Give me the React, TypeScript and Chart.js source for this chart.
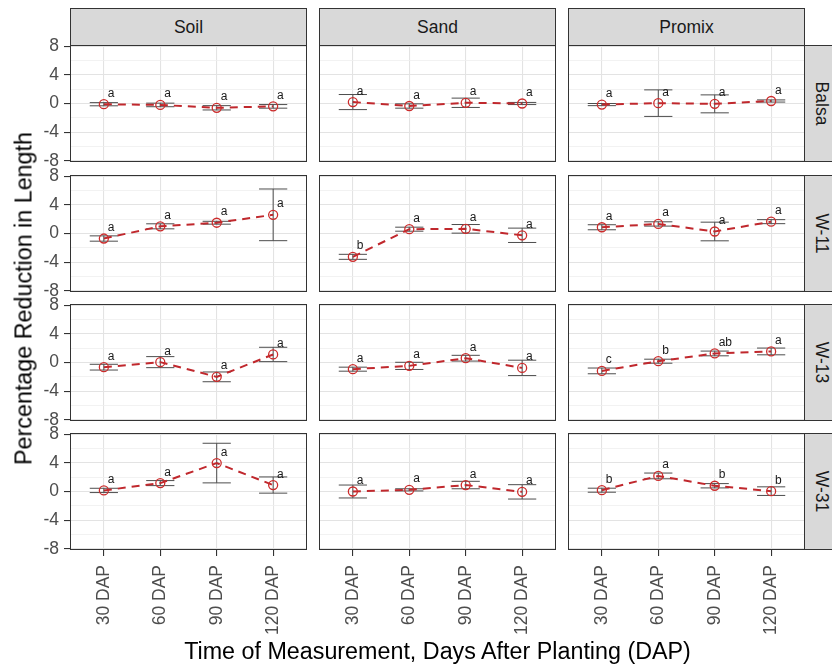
import React, { useEffect, useRef } from "react";
import { Chart, registerables } from "chart.js";

Chart.register(...registerables);

const FONT = "'Liberation Sans', Arial, Helvetica, sans-serif";
Chart.defaults.font.family = FONT;

// ---------- data ----------
const DAP_LABELS = ["30 DAP", "60 DAP", "90 DAP", "120 DAP"];
const MEDIA = ["Soil", "Sand", "Promix"];
const CULTIVARS = ["Balsa", "W-11", "W-13", "W-31"];
const Y_MAJOR = [-8, -4, 0, 4, 8];
const Y_MINOR = [-6, -2, 2, 6];

// each array: [Soil, Sand, Promix], values for 30/60/90/120 DAP
const balsaMean = [
  [-0.1, -0.2, -0.6, -0.4],
  [0.2, -0.35, 0.1, 0.0],
  [-0.15, 0.05, -0.05, 0.35],
];
const balsaErr = [
  [0.22, 0.25, 0.3, 0.25],
  [1.05, 0.3, 0.65, 0.15],
  [0.15, 1.85, 1.25, 0.15],
];
const balsaLetters = [
  ["a", "a", "a", "a"],
  ["a", "a", "a", "a"],
  ["a", "a", "a", "a"],
];

const w11Mean = [
  [-0.7, 1.0, 1.5, 2.6],
  [-3.25, 0.6, 0.65, -0.25],
  [0.87, 1.33, 0.28, 1.65],
];
const w11Err = [
  [0.37, 0.35, 0.2, 3.6],
  [0.35, 0.28, 0.6, 1.0],
  [0.35, 0.3, 1.3, 0.28],
];
const w11Letters = [
  ["a", "a", "a", "a"],
  ["b", "a", "a", "a"],
  ["a", "a", "a", "a"],
];

const w13Mean = [
  [-0.65, 0.05, -2.0, 1.12],
  [-0.93, -0.47, 0.6, -0.75],
  [-1.17, 0.18, 1.26, 1.54],
];
const w13Err = [
  [0.4, 0.77, 0.68, 1.0],
  [0.28, 0.5, 0.4, 1.07],
  [0.4, 0.28, 0.33, 0.47],
];
const w13Letters = [
  ["a", "a", "a", "a"],
  ["a", "a", "a", "a"],
  ["c", "b", "ab", "a"],
];

const w31Mean = [
  [0.15, 1.17, 3.96, 0.9],
  [0.0, 0.23, 0.9, -0.05],
  [0.18, 2.17, 0.8, 0.05],
];
const w31Err = [
  [0.3, 0.35, 2.76, 1.13],
  [0.9, 0.15, 0.52, 1.0],
  [0.28, 0.4, 0.3, 0.6],
];
const w31Letters = [
  ["a", "a", "a", "a"],
  ["a", "a", "a", "a"],
  ["b", "a", "b", "b"],
];

const MEANS = [balsaMean, w11Mean, w13Mean, w31Mean];
const ERRS = [balsaErr, w11Err, w13Err, w31Err];
const LETTERS = [balsaLetters, w11Letters, w13Letters, w31Letters];

// ---------- layout / style ----------
const COL_X = [70, 319, 568];
const ROW_Y = [45, 175, 304, 433];
const PW = 237;
const PH = 117;
const YW = 50;
const XH = 95;
const M = 12; // canvas margin above/below the panel so edge tick labels fit
const LINE_COLOR = "#c0282d";
const POINT_COLOR = "#cc2b2b";
const ERR_COLOR = "#4d4d4d";
const AXIS_TEXT = "#4d4d4d";

function Panel({ row, col }: { row: number; col: number }) {
  const ref = useRef<HTMLCanvasElement>(null);
  const showY = col === 0;
  const showX = row === CULTIVARS.length - 1;
  const width = PW + (showY ? YW : 0);
  const height = PH + (showX ? XH : 0) + 2 * M;

  useEffect(() => {
    if (!ref.current) return;
    const means = MEANS[row][col];
    const errs = ERRS[row][col];
    const letters = LETTERS[row][col];

    const deco = {
      id: "panelDeco",
      beforeDatasetsDraw(chart: any) {
        const { ctx, scales } = chart;
        const x = scales.x;
        const y = scales.y;
        ctx.save();
        ctx.strokeStyle = ERR_COLOR;
        ctx.lineWidth = 1;
        means.forEach((m, i) => {
          const px = x.getPixelForValue(i + 1);
          const hw = x.getPixelForValue(i + 1.25) - px;
          const top = y.getPixelForValue(m + errs[i]);
          const bot = y.getPixelForValue(m - errs[i]);
          ctx.beginPath();
          ctx.moveTo(px, top);
          ctx.lineTo(px, bot);
          ctx.moveTo(px - hw, top);
          ctx.lineTo(px + hw, top);
          ctx.moveTo(px - hw, bot);
          ctx.lineTo(px + hw, bot);
          ctx.stroke();
        });
        ctx.restore();
      },
      afterDatasetsDraw(chart: any) {
        const { ctx, scales, chartArea } = chart;
        const x = scales.x;
        const y = scales.y;
        ctx.save();
        ctx.fillStyle = "#1a1a1a";
        ctx.font = `12px ${FONT}`;
        ctx.textAlign = "left";
        ctx.textBaseline = "middle";
        means.forEach((m, i) => {
          const px = x.getPixelForValue(i + 1.07);
          const py = y.getPixelForValue(m + 1.5);
          ctx.fillText(letters[i], px, py);
        });
        ctx.strokeStyle = "#333333";
        ctx.lineWidth = 1;
        ctx.strokeRect(
          chartArea.left + 0.5,
          chartArea.top + 0.5,
          chartArea.right - chartArea.left - 1,
          chartArea.bottom - chartArea.top - 1
        );
        ctx.restore();
      },
    };

    const chart = new Chart(ref.current, {
      type: "line",
      data: {
        datasets: [
          {
            data: means.map((m, i) => ({ x: i + 1, y: m })),
            borderColor: LINE_COLOR,
            borderWidth: 2,
            borderDash: [8, 6],
            tension: 0,
            fill: false,
            pointRadius: 4.5,
            pointBorderColor: POINT_COLOR,
            pointBackgroundColor: "rgba(0,0,0,0)",
            pointBorderWidth: 1.3,
          },
        ],
      },
      options: {
        responsive: false,
        animation: false,
        devicePixelRatio: 1,
        layout: { padding: { top: M, bottom: M, left: 0, right: 0 }, autoPadding: false },
        plugins: {
          legend: { display: false },
          tooltip: { enabled: false },
        },
        scales: {
          x: {
            type: "linear",
            min: 0.4,
            max: 4.6,
            border: { display: false },
            afterBuildTicks: (scale: any) => {
              scale.ticks = DAP_LABELS.map((_, i) => ({ value: i + 1 }));
            },
            afterFit: (scale: any) => {
              scale.height = showX ? XH : 0;
              scale.paddingLeft = 0;
              scale.paddingRight = 0;
              scale.paddingTop = 0;
              scale.paddingBottom = 0;
            },
            grid: {
              color: "#e3e3e3",
              lineWidth: 1.1,
              drawTicks: showX,
              tickLength: 6,
              tickColor: "#333333",
            },
            ticks: {
              display: showX,
              autoSkip: false,
              minRotation: 90,
              maxRotation: 90,
              padding: 9,
              color: AXIS_TEXT,
              font: { size: 17.5, family: FONT },
              callback: (v: any) => DAP_LABELS[Number(v) - 1] ?? "",
            },
          },
          y: {
            type: "linear",
            min: -8.15,
            max: 8.15,
            border: { display: false },
            afterBuildTicks: (scale: any) => {
              scale.ticks = [...Y_MAJOR, ...Y_MINOR]
                .sort((a, b) => a - b)
                .map((v) => ({ value: v }));
            },
            afterFit: (scale: any) => {
              scale.width = showY ? YW : 0;
              scale.paddingLeft = 0;
              scale.paddingRight = 0;
              scale.paddingTop = 0;
              scale.paddingBottom = 0;
            },
            grid: {
              color: (c: any) =>
                Y_MAJOR.includes(c.tick?.value) ? "#e3e3e3" : "#efefef",
              lineWidth: (c: any) => (Y_MAJOR.includes(c.tick?.value) ? 1.1 : 0.8),
              drawTicks: showY,
              tickLength: 6,
              tickColor: (c: any) =>
                Y_MAJOR.includes(c.tick?.value) ? "#333333" : "rgba(0,0,0,0)",
            },
            ticks: {
              display: showY,
              autoSkip: false,
              padding: 5,
              color: AXIS_TEXT,
              font: { size: 17.5, family: FONT },
              callback: (v: any) => (Y_MAJOR.includes(Number(v)) ? String(v) : ""),
            },
          },
        },
      },
      plugins: [deco],
    } as any);

    return () => chart.destroy();
  }, [row, col]);

  return (
    <canvas
      ref={ref}
      width={width}
      height={height}
      style={{
        position: "absolute",
        left: COL_X[col] - (showY ? YW : 0),
        top: ROW_Y[row] - M,
        width,
        height,
      }}
    />
  );
}

export default function App() {
  return (
    <div
      style={{
        position: "absolute",
        left: 0,
        top: 0,
        width: 832,
        height: 668,
        overflow: "hidden",
        background: "#ffffff",
        fontFamily: FONT,
      }}
    >
      {MEDIA.map((m, c) => (
        <div
          key={m}
          style={{
            position: "absolute",
            left: COL_X[c],
            top: 8,
            width: PW,
            height: 38,
            boxSizing: "border-box",
            background: "#d9d9d9",
            border: "1px solid #333333",
            display: "flex",
            alignItems: "center",
            justifyContent: "center",
            fontSize: 17.5,
            color: "#1a1a1a",
          }}
        >
          {m}
        </div>
      ))}
      {CULTIVARS.map((cv, r) => (
        <div
          key={cv}
          style={{
            position: "absolute",
            left: COL_X[2] + PW - 1,
            top: ROW_Y[r],
            width: 35,
            height: PH,
            boxSizing: "border-box",
            background: "#d9d9d9",
            border: "1px solid #333333",
            display: "flex",
            alignItems: "center",
            justifyContent: "center",
            fontSize: 17.5,
            color: "#1a1a1a",
          }}
        >
          <span style={{ transform: "rotate(90deg)", whiteSpace: "nowrap", display: "inline-block" }}>
            {cv}
          </span>
        </div>
      ))}
      {CULTIVARS.map((cv, r) =>
        MEDIA.map((m, c) => <Panel key={cv + m} row={r} col={c} />)
      )}
      <div
        style={{
          position: "absolute",
          left: 24 - 250,
          top: 298 - 11.5,
          width: 500,
          height: 23,
          lineHeight: "23px",
          textAlign: "center",
          fontSize: 23.3,
          color: "#000",
          transform: "rotate(-90deg)",
          whiteSpace: "nowrap",
        }}
      >
        Percentage Reduction in Length
      </div>
      <div
        style={{
          position: "absolute",
          left: COL_X[0],
          top: 640,
          width: COL_X[2] + PW - COL_X[0],
          height: 23,
          lineHeight: "23px",
          textAlign: "center",
          fontSize: 23.3,
          color: "#000",
          whiteSpace: "nowrap",
        }}
      >
        Time of Measurement, Days After Planting (DAP)
      </div>
    </div>
  );
}
